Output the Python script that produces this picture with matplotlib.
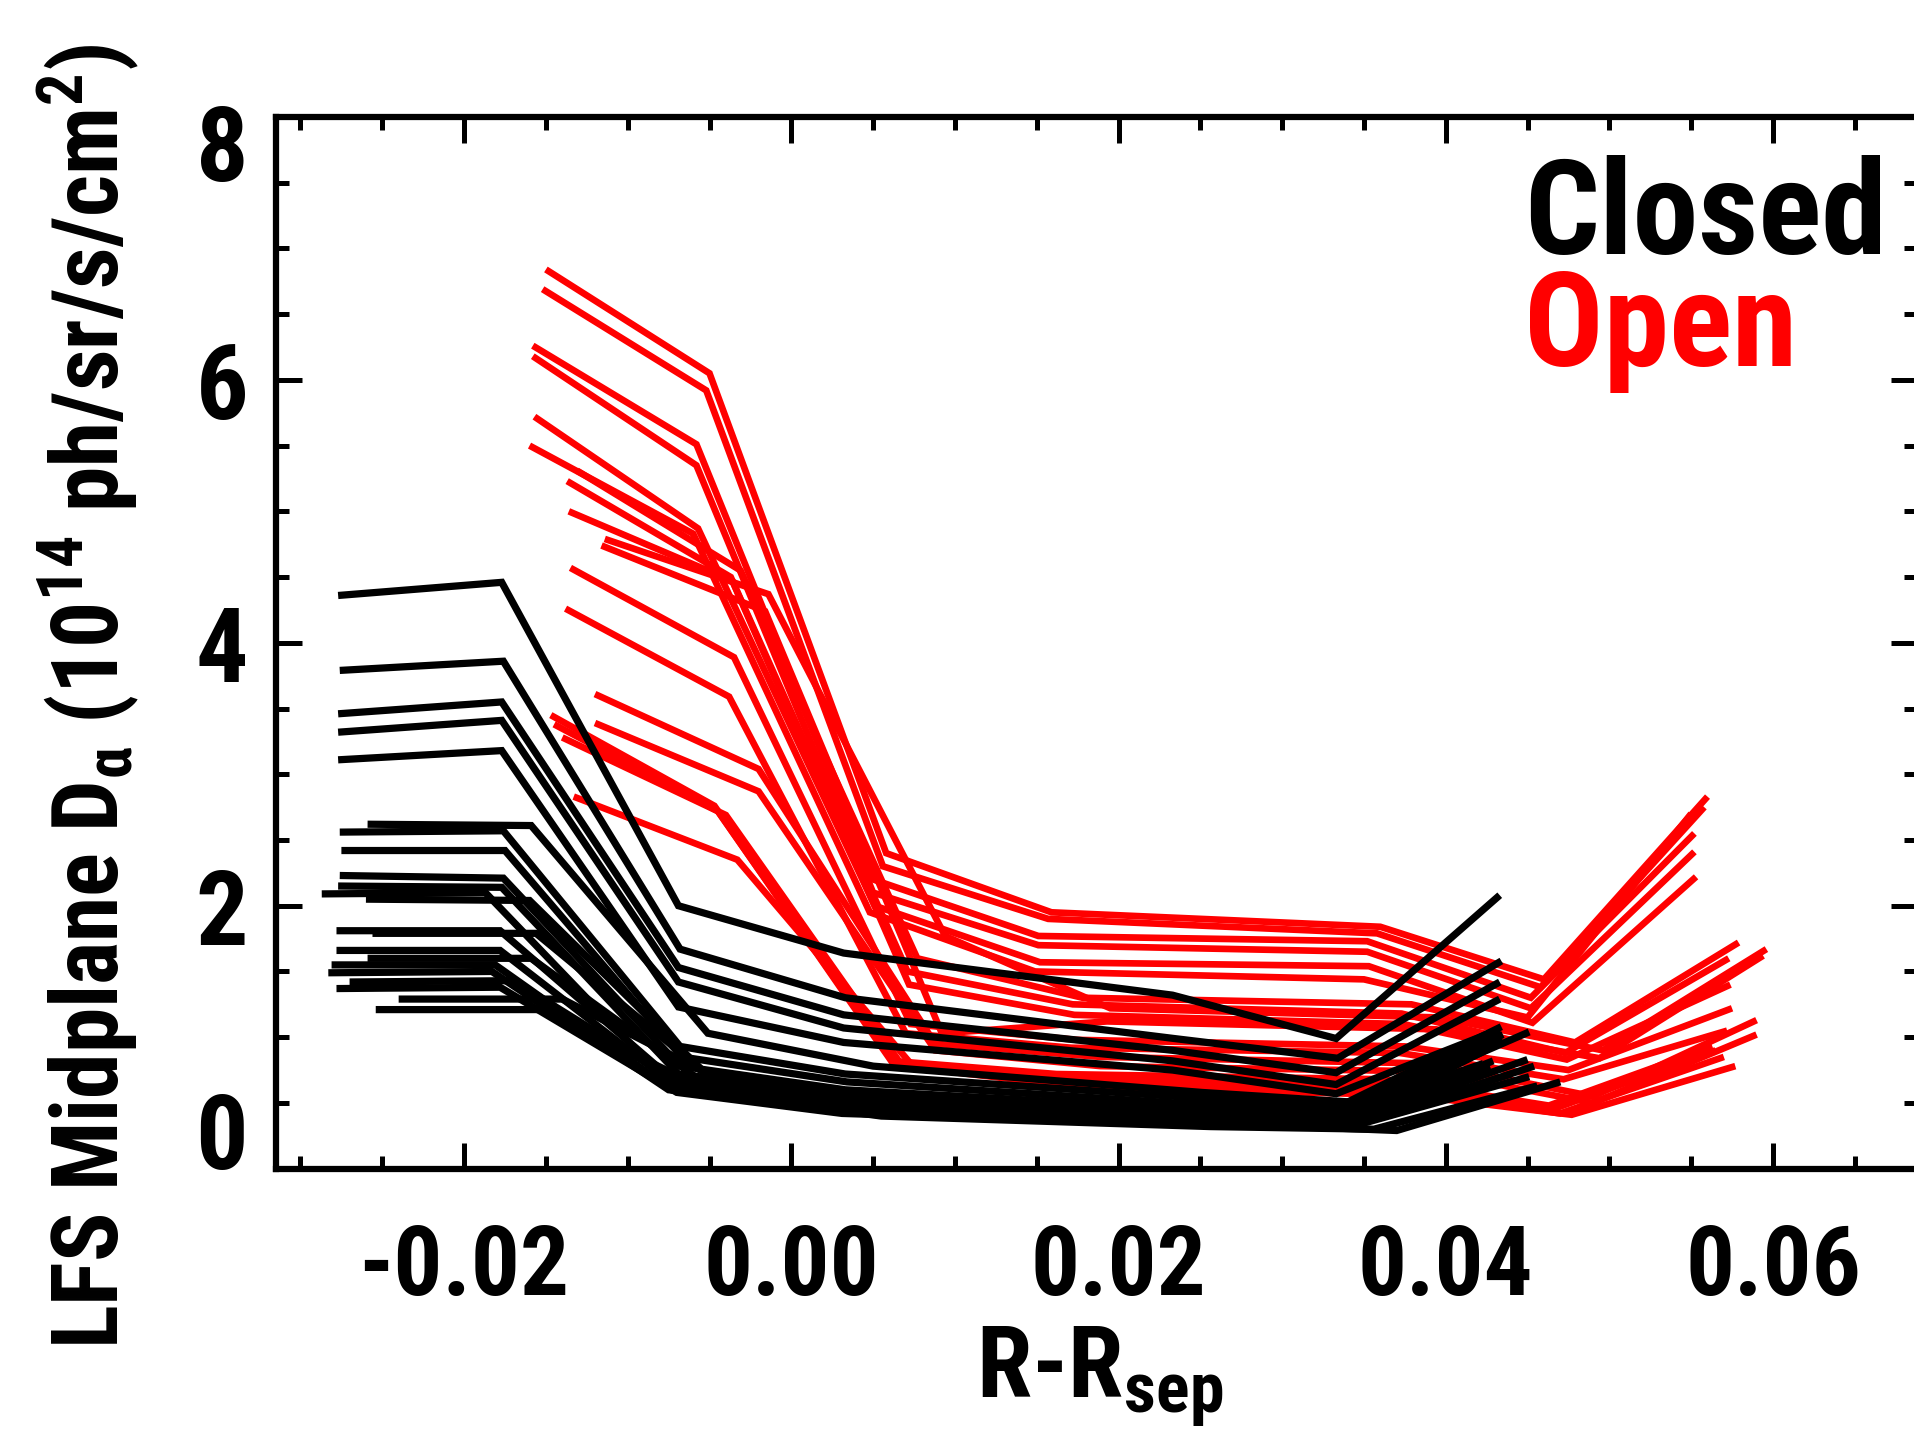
import matplotlib
matplotlib.use("Agg")
import matplotlib.pyplot as plt
from matplotlib import font_manager
from matplotlib.transforms import ScaledTranslation
from matplotlib.ticker import MultipleLocator, FormatStrFormatter

# chord positions relative to the innermost chord (m)
chan_dr = [0.0, 0.0100, 0.0208, 0.0309, 0.0510, 0.0610, 0.0710]

# closed field line profiles: R(innermost chord) - Rsep, and D-alpha per chord
closed_shift = [-0.0277, -0.0276, -0.0277, -0.0277, -0.0277, -0.0259, -0.0276, -0.0275,
                -0.0276, -0.0277, -0.0287, -0.0260, -0.0278, -0.0256, -0.0278, -0.0259,
                -0.0281, -0.0283, -0.0270, -0.0278, -0.0240, -0.0254]
closed_da = [
    [4.36, 4.46, 2.00, 1.64, 1.32, 0.99, 2.08],
    [3.79, 3.86, 1.67, 1.30, 0.99, 0.84, 1.58],
    [3.46, 3.55, 1.53, 1.17, 0.90, 0.73, 1.42],
    [3.32, 3.41, 1.42, 1.07, 0.82, 0.64, 1.29],
    [3.11, 3.18, 1.23, 0.96, 0.75, 0.57, 1.06],
    [2.62, 2.61, 1.03, 0.78, 0.58, 0.50, 1.04],
    [2.56, 2.57, 0.93, 0.72, 0.55, 0.47, 1.08],
    [2.42, 2.42, 0.85, 0.66, 0.50, 0.44, 1.02],
    [2.23, 2.21, 0.78, 0.60, 0.46, 0.42, 1.00],
    [2.15, 2.14, 0.72, 0.56, 0.44, 0.40, 0.98],
    [2.09, 2.10, 0.70, 0.55, 0.42, 0.38, 0.80],
    [2.05, 2.04, 0.72, 0.55, 0.43, 0.39, 0.83],
    [1.81, 1.81, 0.65, 0.50, 0.40, 0.36, 0.96],
    [1.79, 1.79, 0.68, 0.52, 0.41, 0.37, 0.78],
    [1.66, 1.66, 0.62, 0.47, 0.38, 0.34, 1.05],
    [1.60, 1.60, 0.63, 0.48, 0.38, 0.35, 0.70],
    [1.55, 1.55, 0.60, 0.45, 0.36, 0.33, 0.82],
    [1.49, 1.50, 0.60, 0.44, 0.35, 0.32, 0.78],
    [1.42, 1.43, 0.60, 0.45, 0.36, 0.33, 0.72],
    [1.37, 1.38, 0.58, 0.42, 0.34, 0.31, 0.95],
    [1.29, 1.29, 0.60, 0.43, 0.34, 0.29, 0.66],
    [1.21, 1.21, 0.57, 0.40, 0.32, 0.30, 0.63],
]

# open field line profiles
open_shift = [-0.0150, -0.0152, -0.0158, -0.0158, -0.0157, -0.0160, -0.0131, -0.0137,
              -0.0136, -0.0114, -0.0116, -0.0135, -0.0138, -0.0120, -0.0120, -0.0147,
              -0.0145, -0.0140, -0.0133]
open_da = [
    [6.84, 6.05, 2.40, 1.95, 1.84, 1.44, 2.83],
    [6.69, 5.92, 2.30, 1.90, 1.79, 1.38, 2.75],
    [6.26, 5.51, 2.20, 1.77, 1.73, 1.30, 2.55],
    [6.18, 5.35, 2.10, 1.70, 1.65, 1.22, 2.41],
    [5.72, 4.87, 2.00, 1.57, 1.54, 1.11, 2.22],
    [5.50, 4.83, 1.95, 1.50, 1.44, 1.15, 2.70],
    [5.31, 4.55, 1.60, 1.30, 1.25, 0.96, 1.72],
    [5.23, 4.50, 1.50, 1.25, 1.18, 0.88, 1.60],
    [5.00, 4.47, 1.40, 1.17, 1.10, 0.83, 1.40],
    [4.79, 4.37, 1.77, 1.22, 1.15, 0.90, 1.67],
    [4.74, 4.24, 1.03, 1.12, 1.06, 0.84, 1.62],
    [4.57, 3.89, 1.10, 0.98, 0.93, 0.75, 1.22],
    [4.26, 3.59, 1.03, 0.92, 0.88, 0.68, 1.05],
    [3.61, 3.04, 0.95, 0.85, 0.80, 0.55, 1.13],
    [3.39, 2.87, 0.90, 0.78, 0.74, 0.50, 1.02],
    [3.45, 2.76, 0.82, 0.72, 0.68, 0.48, 0.93],
    [3.38, 2.72, 0.80, 0.70, 0.64, 0.45, 0.90],
    [3.28, 2.69, 0.78, 0.66, 0.60, 0.42, 0.85],
    [2.83, 2.35, 0.77, 0.62, 0.56, 0.41, 0.78],
]

# narrow bold sans, first one that is installed
cands = ['Roboto Condensed', 'Archivo Narrow', 'PT Sans Narrow', 'Barlow Semi Condensed',
         'Liberation Sans']
installed = {f.name for f in font_manager.fontManager.ttflist}
narrow = next(c for c in cands if c in installed)

plt.rcParams['font.family'] = [narrow, 'DejaVu Sans']
plt.rcParams['font.weight'] = 'bold'
plt.rcParams['axes.unicode_minus'] = False
plt.rcParams['mathtext.fontset'] = 'custom'
plt.rcParams['mathtext.rm'] = narrow + ':bold'
plt.rcParams['mathtext.bf'] = narrow + ':bold'
plt.rcParams['mathtext.it'] = narrow

fig = plt.figure(figsize=(19.15, 14.35), dpi=100)
ax = fig.add_axes([0.1441, 0.1856, 0.8569, 0.7329])

# open (red) first, closed (black) on top
for shift, da in zip(open_shift, open_da):
    r = [shift + d for d in chan_dr]
    ax.plot(r, da, color='red', lw=4.8, solid_capstyle='butt', solid_joinstyle='miter')
for shift, da in zip(closed_shift, closed_da):
    r = [shift + d for d in chan_dr]
    ax.plot(r, da, color='black', lw=5.2, solid_capstyle='butt', solid_joinstyle='miter')

ax.set_xlim(-0.0315, 0.0688)
ax.set_ylim(0, 8)

ax.xaxis.set_major_locator(MultipleLocator(0.02))
ax.xaxis.set_minor_locator(MultipleLocator(0.005))
ax.xaxis.set_major_formatter(FormatStrFormatter('%.2f'))
ax.yaxis.set_major_locator(MultipleLocator(2))
ax.yaxis.set_minor_locator(MultipleLocator(0.5))
ax.yaxis.set_major_formatter(FormatStrFormatter('%d'))

for s in ax.spines.values():
    s.set_linewidth(4.5)
ax.tick_params(which='both', direction='in', top=True, right=True, width=3.6)
ax.tick_params(which='major', length=18.7)
ax.tick_params(which='minor', length=9.4)
ax.tick_params(axis='x', which='major', labelsize=70, pad=39)
ax.tick_params(axis='y', which='major', labelsize=75, pad=20)

# end labels sit inside the axis range, as in the original
fig.canvas.draw()
for lab in ax.get_yticklabels():
    if lab.get_text() == '0':
        lab.set_va('baseline')
    elif lab.get_text() == '8':
        lab.set_va('baseline')
        lab.set_transform(lab.get_transform() + ScaledTranslation(0, -0.64, fig.dpi_scale_trans))

ax.set_xlabel(r'R-R$_{\rm sep}$', fontsize=72, fontweight='bold')
ax.xaxis.set_label_coords(0.502, -0.148)

fig.text(0.046, 0.5145, r'LFS Midplane D$_{\alpha}$ (10$^{14}$ ph/sr/s/cm$^{2}$)',
         rotation=90, ha='center', va='center', fontsize=66, fontweight='bold')

ax.text(0.7605, 0.8697, 'Closed', transform=ax.transAxes, fontsize=95,
        fontweight='bold', color='black', va='baseline')
ax.text(0.7605, 0.7633, 'Open', transform=ax.transAxes, fontsize=95,
        fontweight='bold', color='red', va='baseline')

fig.savefig('out.png', dpi=100)
